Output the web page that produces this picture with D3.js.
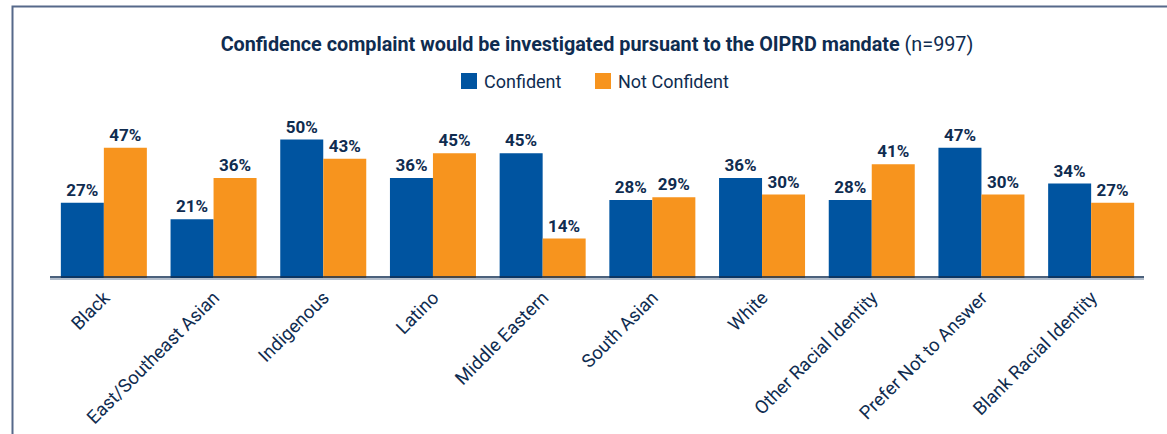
<!DOCTYPE html>
<html>
<head>
<meta charset="utf-8">
<script src="https://cdn.jsdelivr.net/npm/d3@7"></script>
<style>
  body { margin: 0; background: #fff; }
  svg { display: block; font-family: Roboto, "Open Sans", sans-serif; }
</style>
</head>
<body>
<div id="chart"></div>
<script>
const categories = ['Black', 'East/Southeast Asian', 'Indigenous', 'Latino', 'Middle Eastern',
  'South Asian', 'White', 'Other Racial Identity', 'Prefer Not to Answer', 'Blank Racial Identity']
const seriesNames = ['Confident', 'Not Confident']
const confident = [27, 21, 50, 36, 45, 28, 36, 28, 47, 34]
const notConfident = [47, 36, 43, 45, 14, 29, 30, 41, 30, 27]
const colors = ['#0054a0', '#f7941e']
const navy = '#0f2c50'

const width = 1167, height = 434

const svg = d3.select('#chart')
    .append('svg')
    .attr('width', width)
    .attr('height', height)

// frame (top and left edges only visible)
svg.append('path')
    .attr('d', 'M12.5,' + height + 'V6.5H' + width)
    .attr('fill', 'none')
    .attr('stroke', '#56698a')
    .attr('stroke-width', 2)

// title
const title = svg.append('text')
    .attr('x', 597)
    .attr('y', 51)
    .attr('text-anchor', 'middle')
    .attr('fill', navy)
    .style('font-size', '19.8px')
title.append('tspan').attr('font-weight', 'bold')
    .text('Confidence complaint would be investigated pursuant to the OIPRD mandate ')
title.append('tspan').text('(n=997)')

// legend
const legendX = [461, 595]
const legend = svg.append('g')
seriesNames.forEach((name, i) => {
  const g = legend.append('g').attr('transform', 'translate(' + legendX[i] + ',73)')
  g.append('rect').attr('width', 16).attr('height', 16).attr('fill', colors[i])
  g.append('text')
      .attr('x', 23)
      .attr('y', 15)
      .attr('fill', navy)
      .style('font-size', '18px')
      .text(name)
})

const x0 = d3.scaleBand()
    .domain(categories)
    .range([49, 1146])
    .paddingInner(0.216)
    .paddingOuter(0.108)

const x1 = d3.scaleBand()
    .domain(seriesNames)
    .range([0, x0.bandwidth()])

const y = d3.scaleLinear()
    .domain([0, 50])
    .range([277, 139.5])

const rows = categories.map((c, i) => ({ cat: c, values: [confident[i], notConfident[i]] }))

const groups = svg.append('g')
    .selectAll('g')
    .data(rows)
    .join('g')
    .attr('transform', d => 'translate(' + x0(d.cat) + ',0)')

groups.selectAll('rect')
    .data(d => d.values.map((v, i) => ({ key: seriesNames[i], v, i })))
    .join('rect')
    .attr('x', d => x1(d.key))
    .attr('y', d => y(d.v))
    .attr('width', x1.bandwidth())
    .attr('height', d => y(0) - y(d.v) + 1)
    .attr('fill', d => colors[d.i])

groups.selectAll('text.val')
    .data(d => d.values.map((v, i) => ({ key: seriesNames[i], v, i })))
    .join('text')
    .attr('class', 'val')
    .attr('x', d => x1(d.key) + x1.bandwidth() / 2)
    .attr('y', d => y(d.v) - 7)
    .attr('text-anchor', 'middle')
    .attr('fill', navy)
    .attr('font-weight', 'bold')
    .style('font-size', '17px')
    .text(d => d.v + '%')

// baseline
svg.append('line')
    .attr('x1', 50).attr('x2', 1144)
    .attr('y1', 279).attr('y2', 279)
    .attr('stroke', '#9aa8bb')
    .attr('stroke-width', 1.5)
svg.append('line')
    .attr('x1', 50).attr('x2', 1144)
    .attr('y1', 277).attr('y2', 277)
    .attr('stroke', navy)
    .attr('stroke-width', 1.5)

// category axis labels
const xAxis = d3.axisBottom(x0).tickSize(0).tickPadding(0)
const axisG = svg.append('g')
    .attr('transform', 'translate(0,277)')
    .call(xAxis)
axisG.select('.domain').remove()
axisG.selectAll('text')
    .attr('fill', navy)
    .style('font-size', '18.5px')
    .style('font-family', 'Roboto, "Open Sans", sans-serif')
    .attr('text-anchor', 'end')
    .attr('dy', 0)
    .attr('y', 0)
    .attr('transform', 'translate(7,22) rotate(-45)')
</script>
</body>
</html>
